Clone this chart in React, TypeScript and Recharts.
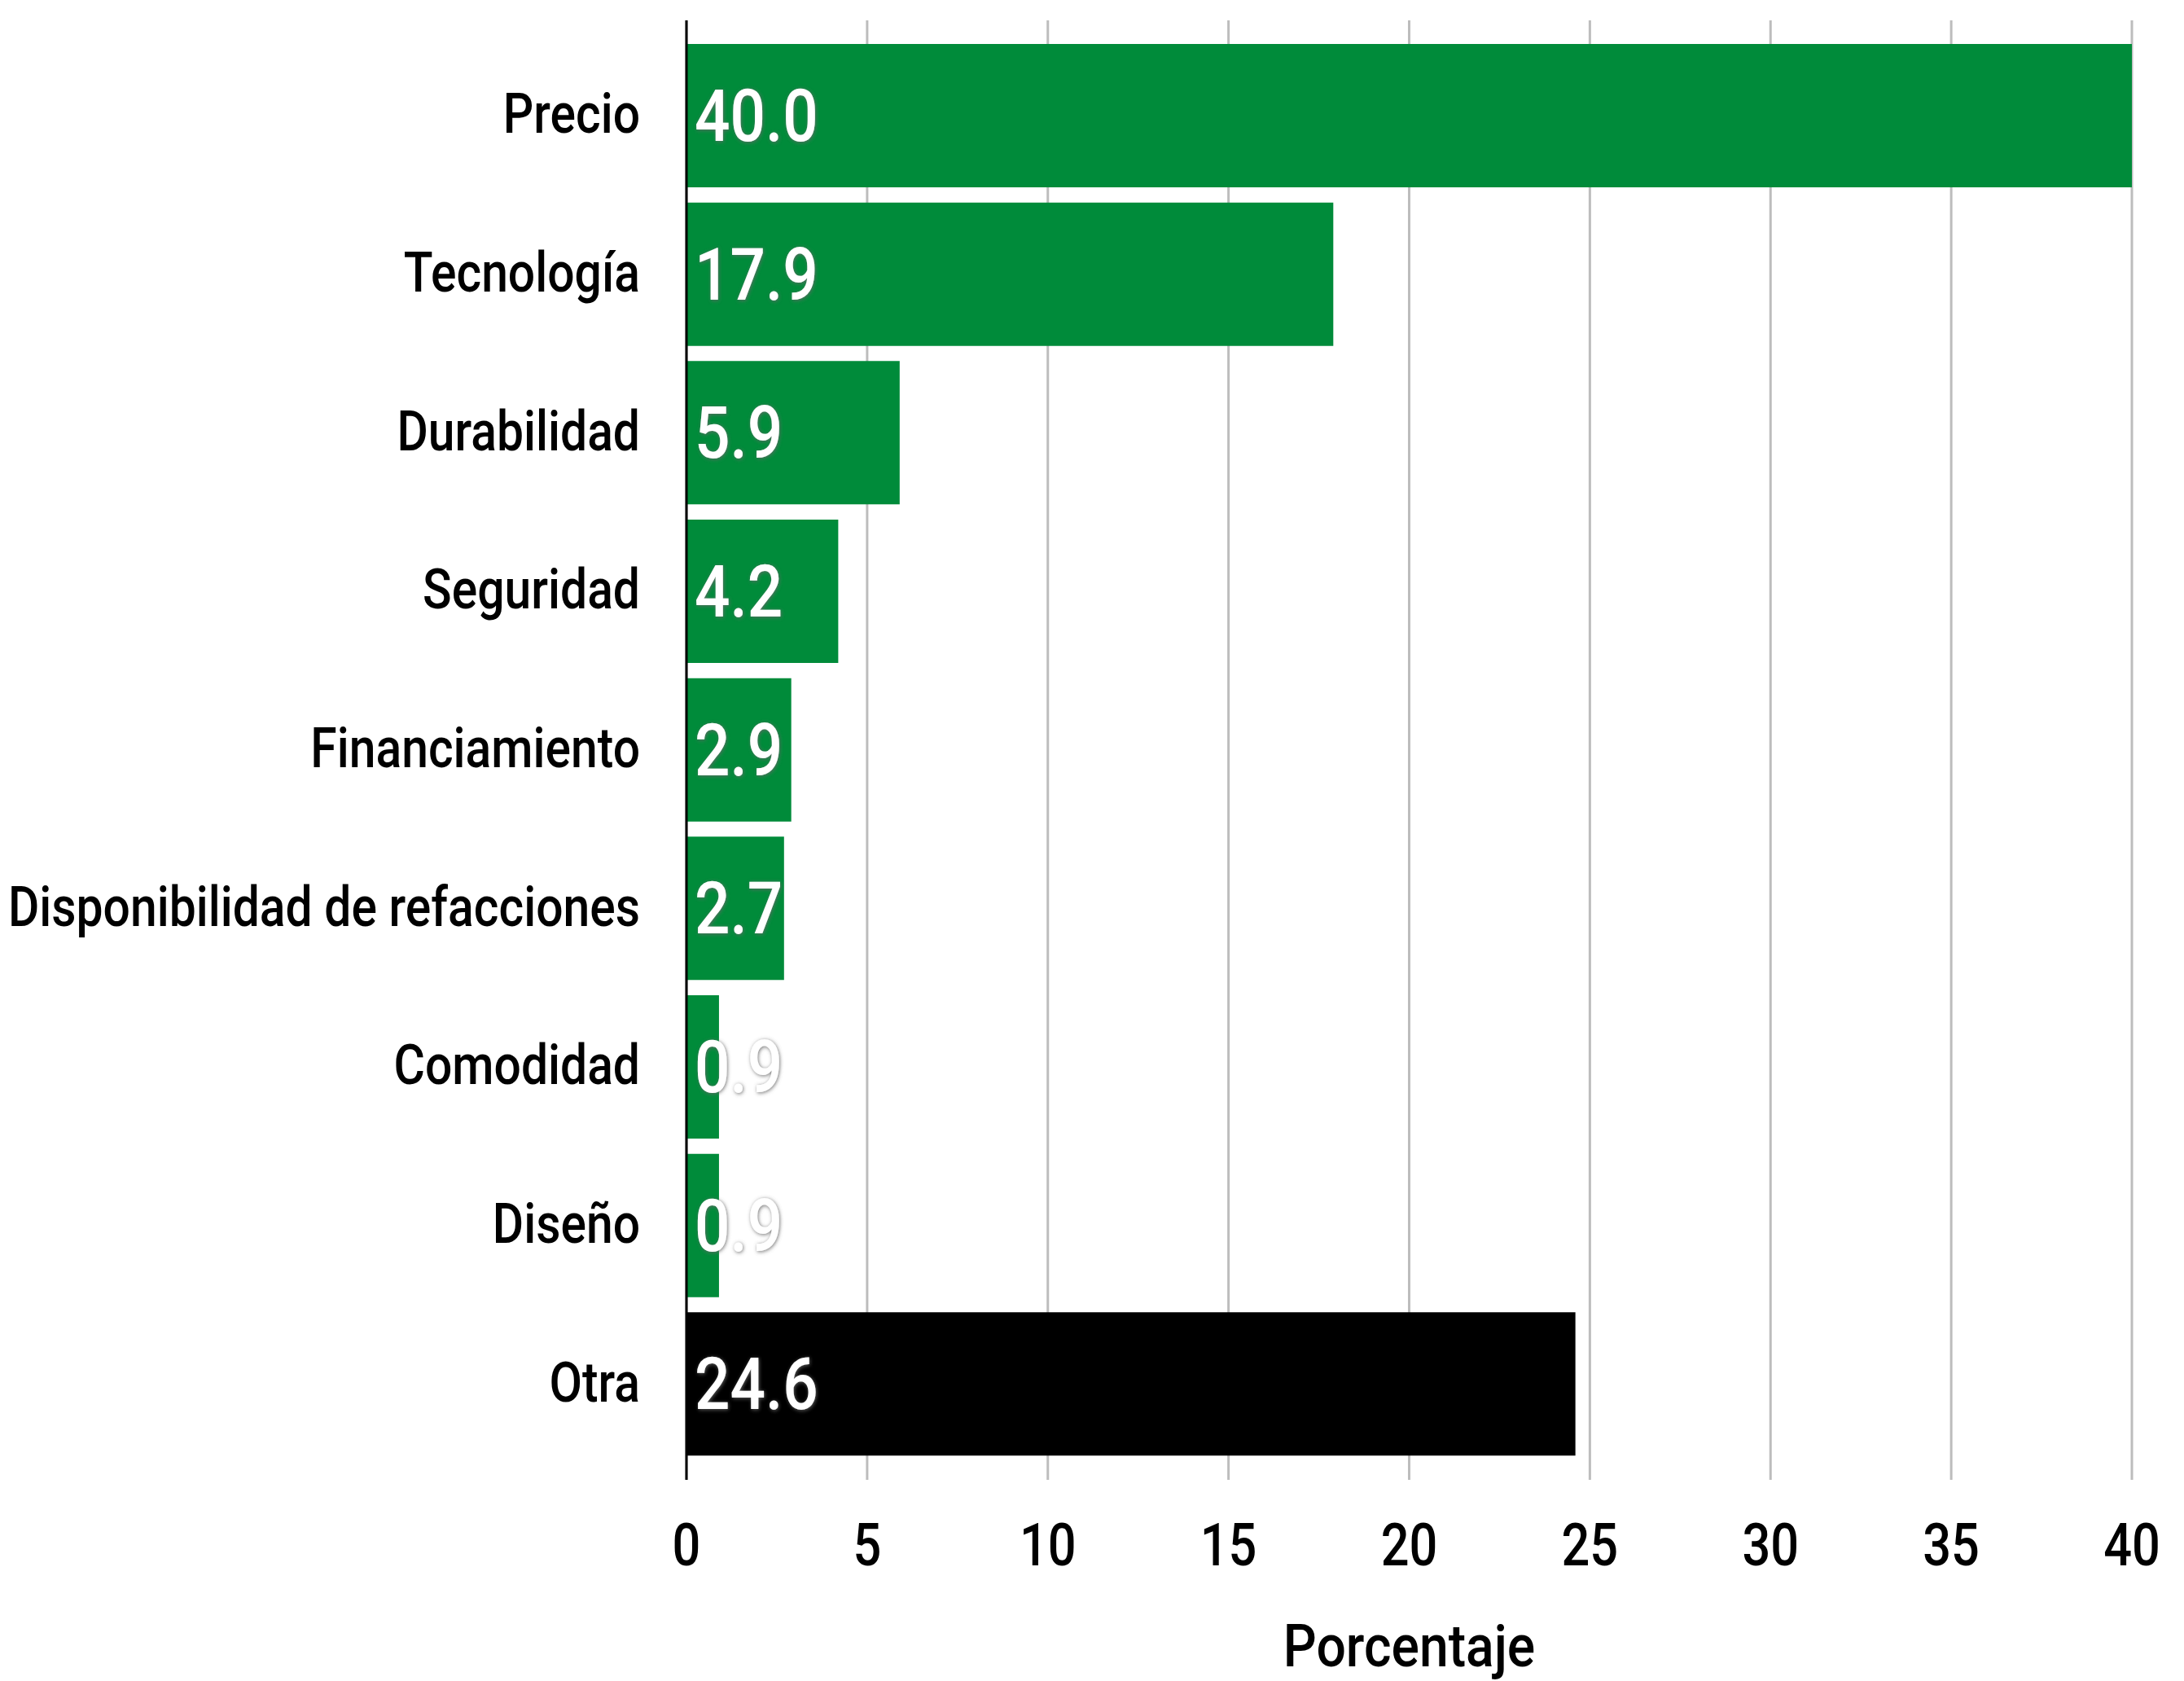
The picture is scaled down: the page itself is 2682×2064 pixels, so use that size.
import { BarChart, Bar, XAxis, YAxis, CartesianGrid, Cell, LabelList, Label } from 'recharts'

const categories = [
  'Precio',
  'Tecnología',
  'Durabilidad',
  'Seguridad',
  'Financiamiento',
  'Disponibilidad de refacciones',
  'Comodidad',
  'Diseño',
  'Otra',
]
const percentages = [40.0, 17.9, 5.9, 4.2, 2.9, 2.7, 0.9, 0.9, 24.6]
const xTicks = [0, 5, 10, 15, 20, 25, 30, 35, 40]
const axisTitle = 'Porcentaje'

const data = categories.map((name, i) => ({ name, value: percentages[i] }))

const GREEN = '#008B3A'
const FONT = 'Roboto, "Noto Sans", sans-serif'

const CategoryTick = ({ x, y, payload }: any) => (
  <text
    transform={`translate(${x - 57},${y + 21}) scale(0.865,1)`}
    textAnchor="end"
    fontFamily={FONT}
    fontWeight={500}
    fontSize={68}
    fill="#000"
  >
    {payload.value}
  </text>
)

const ValueTick = ({ x, y, payload }: any) => (
  <text
    transform={`translate(${x},${y + 105}) scale(0.84,1)`}
    textAnchor="middle"
    fontFamily={FONT}
    fontWeight={500}
    fontSize={73}
    fill="#000"
  >
    {payload.value}
  </text>
)

const BarValue = (props: any) => {
  const { x, y, height, value } = props
  return (
    <text
      transform={`translate(${x + 10},${y + height / 2 + 31}) scale(0.86,1)`}
      fontFamily={FONT}
      fontWeight={500}
      fontSize={89}
      fill="#fff"
      filter="url(#halo)"
    >
      {Number(value).toFixed(1)}
    </text>
  )
}

const AxisTitle = (props: any) => {
  const { viewBox } = props
  const cx = viewBox.x + viewBox.width / 2
  return (
    <text
      transform={`translate(${cx},${viewBox.y + 229}) scale(0.88,1)`}
      textAnchor="middle"
      fontFamily={FONT}
      fontWeight={500}
      fontSize={73}
      fill="#000"
    >
      {axisTitle}
    </text>
  )
}

export default function App() {
  return (
    <div style={{ width: 2682, height: 2064, background: '#fff' }}>
      <style>{'body{margin:0}'}</style>
      <BarChart
        width={2682}
        height={2064}
        data={data}
        layout="vertical"
        margin={{ top: 25, right: 64, bottom: 0, left: 0 }}
      >
        <defs>
          <filter id="halo" x="-20%" y="-20%" width="140%" height="140%">
            <feDropShadow dx="1" dy="1" stdDeviation="2.5" floodColor="#666" floodOpacity="0.9" />
          </filter>
        </defs>
        <CartesianGrid horizontal={false} stroke="#bdbdbd" strokeWidth={3} />
        <XAxis
          type="number"
          domain={[0, 40]}
          ticks={xTicks}
          axisLine={false}
          tickLine={false}
          tickSize={0}
          tickMargin={0}
          height={247}
          tick={<ValueTick />}
        >
          <Label content={<AxisTitle />} />
        </XAxis>
        <YAxis
          type="category"
          dataKey="name"
          width={843}
          padding={{ top: 20, bottom: 20 }}
          axisLine={{ stroke: '#000', strokeWidth: 3 }}
          tickLine={false}
          tickSize={0}
          tickMargin={0}
          interval={0}
          tick={<CategoryTick />}
        />
        <Bar dataKey="value" barSize={176} isAnimationActive={false}>
          {data.map((d) => (
            <Cell key={d.name} fill={d.name === 'Otra' ? '#000' : GREEN} />
          ))}
          <LabelList dataKey="value" content={<BarValue />} />
        </Bar>
      </BarChart>
    </div>
  )
}
